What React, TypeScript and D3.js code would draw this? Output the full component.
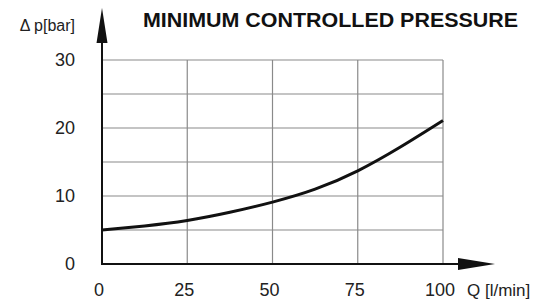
import * as d3 from 'd3';

const flowQ = [0, 12.5, 25, 37.5, 50, 62.5, 75, 87.5, 100];
const pressure = [5.0, 5.6, 6.4, 7.6, 9.1, 11.0, 13.7, 17.2, 21.1];
const xTicks = [0, 25, 50, 75, 100];
const yTicks = [0, 10, 20, 30];
const yGrid = [5, 10, 15, 20, 25, 30];

const W = 541;
const H = 300;
const FONT = '"Liberation Sans", Arial, sans-serif';

const App = () => {
  const x = d3.scaleLinear().domain([0, 100]).range([102, 443]);
  const y = d3.scaleLinear().domain([0, 30]).range([264, 60]);

  const line = d3
    .line<number>()
    .x((_, i) => x(flowQ[i]))
    .y((d) => y(d))
    .curve(d3.curveNatural);

  const x0 = x(0);
  const y0 = y(0);

  return (
    <svg
      width={W}
      height={H}
      style={{ position: 'absolute', left: 0, top: 0, background: '#fff' }}
    >
      {/* grid */}
      {yGrid.map((v) => (
        <line key={'h' + v} x1={x0} x2={x(100)} y1={y(v)} y2={y(v)} stroke="#8a8a8a" strokeWidth={1.2} />
      ))}
      {xTicks.slice(1).map((v) => (
        <line key={'v' + v} x1={x(v)} x2={x(v)} y1={y(30)} y2={y0} stroke="#8a8a8a" strokeWidth={1.2} />
      ))}

      {/* axes with arrows */}
      <line x1={x0} x2={x0} y1={y0 + 1} y2={30} stroke="#111" strokeWidth={2} />
      <path d={`M${x0},8 L${x0 - 5.5},43 L${x0 + 5.5},43 Z`} fill="#111" />
      <line x1={x0 - 1} x2={470} y1={y0} y2={y0} stroke="#111" strokeWidth={2} />
      <path d={`M495,${y0} L458,${y0 - 6} L458,${y0 + 6} Z`} fill="#111" />

      {/* curve */}
      <path d={line(pressure) ?? ''} fill="none" stroke="#111" strokeWidth={3} />

      {/* tick labels */}
      {yTicks.map((v) => (
        <text key={'yt' + v} x={75} y={y(v) + 6} textAnchor="end" fontFamily={FONT} fontSize={18} fill="#222">
          {v}
        </text>
      ))}
      {xTicks.map((v) => (
        <text key={'xt' + v} x={x(v) - 3} y={296} textAnchor="middle" fontFamily={FONT} fontSize={18} fill="#222">
          {v}
        </text>
      ))}

      {/* axis titles */}
      <text x={75} y={31} textAnchor="end" fontFamily={FONT} fontSize={16} fill="#222">
        Δ p[bar]
      </text>
      <text x={467} y={296} fontFamily={FONT} fontSize={17} fill="#222">
        Q [l/min]
      </text>

      {/* title */}
      <text x={143} y={27} fontFamily={FONT} fontSize={21} fontWeight="bold" fill="#111" textLength={375} lengthAdjust="spacingAndGlyphs">
        MINIMUM CONTROLLED PRESSURE
      </text>
    </svg>
  );
};

export default App;
